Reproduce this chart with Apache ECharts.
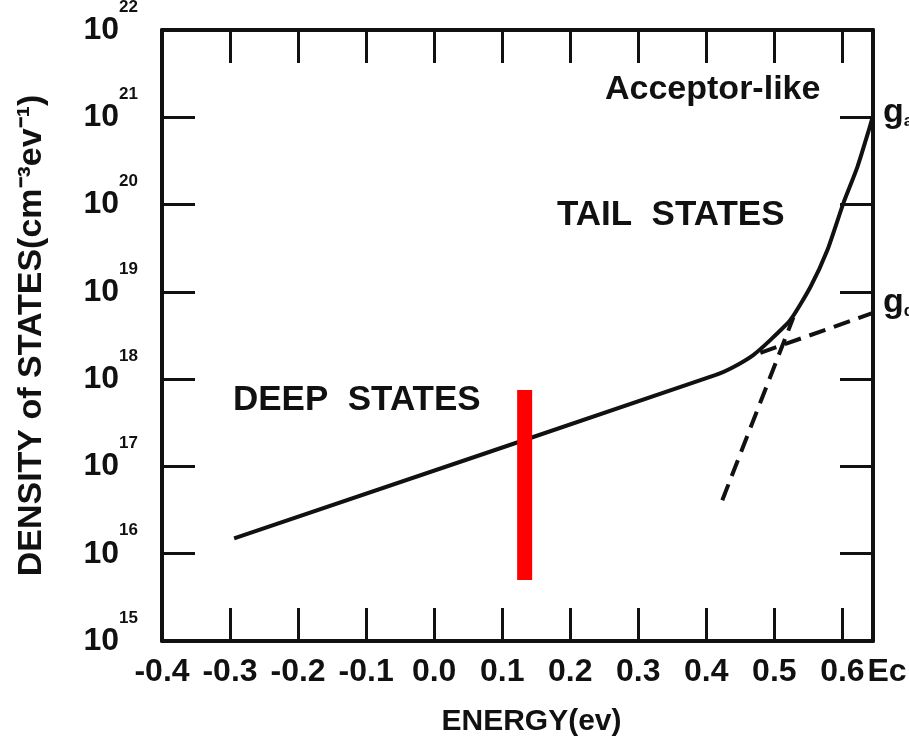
<!DOCTYPE html>
<html>
<head>
<meta charset="utf-8">
<script src="https://cdn.jsdelivr.net/npm/echarts@6/dist/echarts.min.js"></script>
<style>html,body{margin:0;padding:0;background:#fff;}#c{width:909px;height:751px;}</style>
</head>
<body>
<div id="c"></div>
<script>
// ---- data ----
const energyTotal = [-0.294, 0.413, 0.44, 0.469, 0.494, 0.5235, 0.553, 0.578, 0.6015, 0.622, 0.641, 0.644];
const dosTotal    = [1.5e16, 1.11e18, 1.38e18, 1.89e18, 2.8e18, 4.75e18, 1.135e19, 3.01e19, 1.04e20, 2.69e20, 8.1e20, 9.8e20];
const energyTail  = [0.4235, 0.528];
const dosTail     = [4.1e16, 5.1e18];
const energyDeep  = [0.4794, 0.644];
const dosDeep     = [2.0e18, 5.7e18];
const markerEnergy = [0.133, 0.133];
const markerDos    = [7.5e17, 5.0e15];
const xTickLabels = ['-0.4','-0.3','-0.2','-0.1','0.0','0.1','0.2','0.3','0.4','0.5','0.6'];
const edgeLabel = 'Ec';
const xMin = -0.4, xMax = 0.645;
const yMin = 1e15, yMax = 1e22;

const zip = (a, b) => a.map((v, i) => [v, b[i]]);
const FONT = '"Liberation Sans", Arial, sans-serif';
const black = '#111';

function xLabel(v) {
  if (v > 0.62) return '';
  const idx = Math.round((v - xMin) / 0.1);
  return xTickLabels[idx] !== undefined ? xTickLabels[idx] : '';
}

const chart = echarts.init(document.getElementById('c'));
const axisCommon = () => ({
  axisLine: { show: true, onZero: false, lineStyle: { color: black, width: 4 } },
  axisTick: { show: true, inside: true, length: 33, lineStyle: { color: black, width: 3 } },
  splitLine: { show: false }
});
const gText = (l) => ({ rich: { g: { font: 'bold 34px ' + FONT, fill: black }, s: { font: 'bold 17px ' + FONT, fill: black, padding: [16,0,0,0] } }, text: '{g|g}{s|' + l + '}' });

chart.setOption({
  backgroundColor: '#fff',
  animation: false,
  grid: { left: 162, right: 36, top: 30, bottom: 110, containLabel: false, outerBoundsMode: 'none' },
  xAxis: [
    Object.assign(axisCommon(), {
      type: 'value', position: 'bottom', min: xMin, max: xMax, interval: 0.1,
      name: 'ENERGY(ev)', nameLocation: 'middle', nameGap: 66,
      nameTextStyle: { fontFamily: FONT, fontWeight: 'bold', fontSize: 30, color: black, padding: [0, 0, 0, 28] },
      axisLabel: { formatter: xLabel, fontFamily: FONT, fontWeight: 'bold', fontSize: 32, color: black,
                   margin: 15, showMinLabel: true, showMaxLabel: true, hideOverlap: false }
    }),
    Object.assign(axisCommon(), {
      type: 'value', position: 'top', min: xMin, max: xMax, interval: 0.1,
      axisLabel: { show: false }
    }),
    {
      type: 'value', position: 'bottom', min: xMin, max: xMax, interval: 0.1,
      axisLine: { show: false, onZero: false }, axisTick: { show: false }, splitLine: { show: false },
      axisLabel: {
        margin: 15, showMinLabel: true, showMaxLabel: true, hideOverlap: false,
        formatter: v => v > 0.62 ? '{e|' + edgeLabel + '}' : '',
        rich: { e: { fontFamily: FONT, fontWeight: 'bold', fontSize: 32, color: black, padding: [0, 0, 0, 28] } }
      }
    }
  ],
  yAxis: [
    Object.assign(axisCommon(), {
      type: 'log', logBase: 10, min: yMin, max: yMax, splitNumber: 7, position: 'left',
      name: 'DENSITY of STATES(cm\u207B\u00B3ev\u207B\u00B9)', nameLocation: 'middle', nameGap: 113, nameRotate: 90,
      nameTextStyle: { fontFamily: FONT, fontWeight: 'bold', fontSize: 34, color: black },
      axisLabel: {
        margin: 24, showMinLabel: true, showMaxLabel: true,
        formatter: v => '{b|10}{s|' + Math.round(Math.log10(v)) + '}',
        rich: {
          b: { fontFamily: FONT, fontWeight: 'bold', fontSize: 32, color: black },
          s: { fontFamily: FONT, fontWeight: 'bold', fontSize: 17, color: black, verticalAlign: 'top', padding: [0, 0, 46, 0] }
        }
      }
    }),
    Object.assign(axisCommon(), {
      type: 'log', logBase: 10, min: yMin, max: yMax, splitNumber: 7, position: 'right',
      axisLabel: { show: false }
    })
  ],
  series: [
    { type: 'line', name: 'total', data: zip(energyTotal, dosTotal), showSymbol: false, smooth: 0.2,
      lineStyle: { color: black, width: 4 }, xAxisIndex: 0, yAxisIndex: 0 },
    { type: 'line', name: 'tail', data: zip(energyTail, dosTail), showSymbol: false,
      lineStyle: { color: black, width: 4, type: [17, 9] }, xAxisIndex: 0, yAxisIndex: 0 },
    { type: 'line', name: 'deep', data: zip(energyDeep, dosDeep), showSymbol: false,
      lineStyle: { color: black, width: 4, type: [17, 9] }, xAxisIndex: 0, yAxisIndex: 0 },
    { type: 'line', name: 'marker', data: zip(markerEnergy, markerDos), showSymbol: false,
      lineStyle: { color: '#ff0000', width: 15, cap: 'butt' }, xAxisIndex: 0, yAxisIndex: 0 }
  ],
  graphic: [
    { type: 'text', left: 605, top: 73, style: { text: 'Acceptor-like', font: 'bold 34px ' + FONT, fill: black } },
    { type: 'text', left: 557, top: 198, style: { text: 'TAIL  STATES', font: 'bold 35px ' + FONT, fill: black } },
    { type: 'text', left: 233, top: 383, style: { text: 'DEEP  STATES', font: 'bold 35px ' + FONT, fill: black } },
    { type: 'text', left: 883, top: 96, style: gText('a') },
    { type: 'text', left: 883, top: 286, style: gText('d') }
  ]
});
</script>
</body>
</html>
